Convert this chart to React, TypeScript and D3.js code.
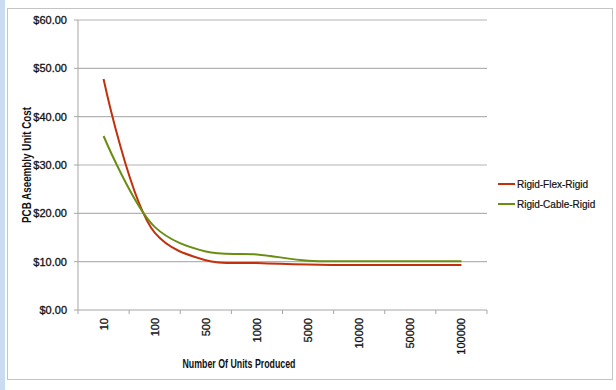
import React from "react";
import * as d3 from "d3";

const units = ["10", "100", "500", "1000", "5000", "10000", "50000", "100000"];
const rigidFlexRigid = [47.8, 16.0, 10.3, 9.7, 9.4, 9.3, 9.3, 9.3];
const rigidCableRigid = [36.0, 17.2, 12.1, 11.5, 10.2, 10.1, 10.1, 10.1];
const yTicks = [0, 10, 20, 30, 40, 50, 60];

const series = [
  { name: "Rigid-Flex-Rigid", values: rigidFlexRigid, color: "#C2300C" },
  { name: "Rigid-Cable-Rigid", values: rigidCableRigid, color: "#6A8E12" },
];

export default function App() {
  const width = 616;
  const height = 390;
  const margin = { top: 20, right: 129, bottom: 80, left: 78 };

  const x = d3
    .scaleBand()
    .domain(units)
    .range([margin.left, width - margin.right])
    .paddingInner(0)
    .paddingOuter(0);
  const y = d3
    .scaleLinear()
    .domain([0, 60])
    .range([height - margin.bottom, margin.top]);

  const line = d3
    .line<number>()
    .x((d, i) => (x(units[i]) as number) + x.bandwidth() / 2)
    .y((d) => y(d))
    .curve(d3.curveCatmullRom.alpha(0.5));

  const fmt = d3.format("$.2f");
  const font = "'Liberation Sans', Arial, sans-serif";

  return (
    <svg
      width={width}
      height={height}
      style={{ position: "absolute", left: 0, top: 0, background: "#fff" }}
    >
      <rect x={0} y={0} width={5} height={height} fill="#C9DCF2" />
      <rect x={7.5} y={8.5} width={605} height={371} fill="#fff" stroke="#C4C4C4" />

      {/* gridlines */}
      {yTicks.slice(1).map((t) => (
        <line
          key={t}
          x1={margin.left}
          x2={width - margin.right}
          y1={y(t)}
          y2={y(t)}
          stroke="#B3B3B3"
          strokeWidth={1.2}
        />
      ))}

      {/* y axis */}
      <line x1={margin.left} x2={margin.left} y1={y(60)} y2={y(0)} stroke="#A6A6A6" />
      {yTicks.map((t) => (
        <g key={t}>
          <line x1={margin.left - 4} x2={margin.left} y1={y(t)} y2={y(t)} stroke="#A6A6A6" />
          <text
            x={67}
            y={y(t)}
            dy="0.35em"
            textAnchor="end"
            fontFamily={font}
            fontSize={11}
            fill="#111"
            stroke="#111"
            strokeWidth={0.3}
          >
            {fmt(t)}
          </text>
        </g>
      ))}

      {/* x axis */}
      <line
        x1={margin.left}
        x2={width - margin.right}
        y1={y(0)}
        y2={y(0)}
        stroke="#A6A6A6"
      />
      {[...units.map((u) => x(u) as number), width - margin.right].map((px, i) => (
        <line
          key={"t" + i}
          x1={px}
          x2={px}
          y1={y(0)}
          y2={y(0) + 4}
          stroke="#A6A6A6"
        />
      ))}
      {units.map((u) => {
        const cx = (x(u) as number) + x.bandwidth() / 2;
        return (
          <text
            key={u}
            transform={`translate(${cx + 4},${318}) rotate(-90)`}
            textAnchor="end"
            fontFamily={font}
            fontSize={11}
            fill="#111"
            stroke="#111"
            strokeWidth={0.3}
          >
            {u}
          </text>
        );
      })}

      {/* lines */}
      {series.map((s) => (
        <path
          key={s.name}
          d={line(s.values) || ""}
          fill="none"
          stroke={s.color}
          strokeWidth={2}
        />
      ))}

      {/* axis titles */}
      <text
        x={239}
        y={368}
        textAnchor="middle"
        fontFamily={font}
        fontWeight="bold"
        fontSize={12}
        fill="#111"
        textLength={113}
        lengthAdjust="spacingAndGlyphs"
      >
        Number Of Units Produced
      </text>
      <text
        transform={`translate(31,165) rotate(-90)`}
        textAnchor="middle"
        fontFamily={font}
        fontWeight="bold"
        fontSize={12}
        fill="#111"
        textLength={116}
        lengthAdjust="spacingAndGlyphs"
      >
        PCB Aseembly Unit Cost
      </text>

      {/* legend */}
      {series.map((s, i) => (
        <g key={"l" + s.name} transform={`translate(498,${184 + i * 20})`}>
          <line x1={0} x2={17} y1={0} y2={0} stroke={s.color} strokeWidth={2} />
          <text
            x={19}
            y={0}
            dy="0.35em"
            fontFamily={font}
            fontSize={10}
            fill="#111"
            stroke="#111"
            strokeWidth={0.2}
          >
            {s.name}
          </text>
        </g>
      ))}
    </svg>
  );
}
